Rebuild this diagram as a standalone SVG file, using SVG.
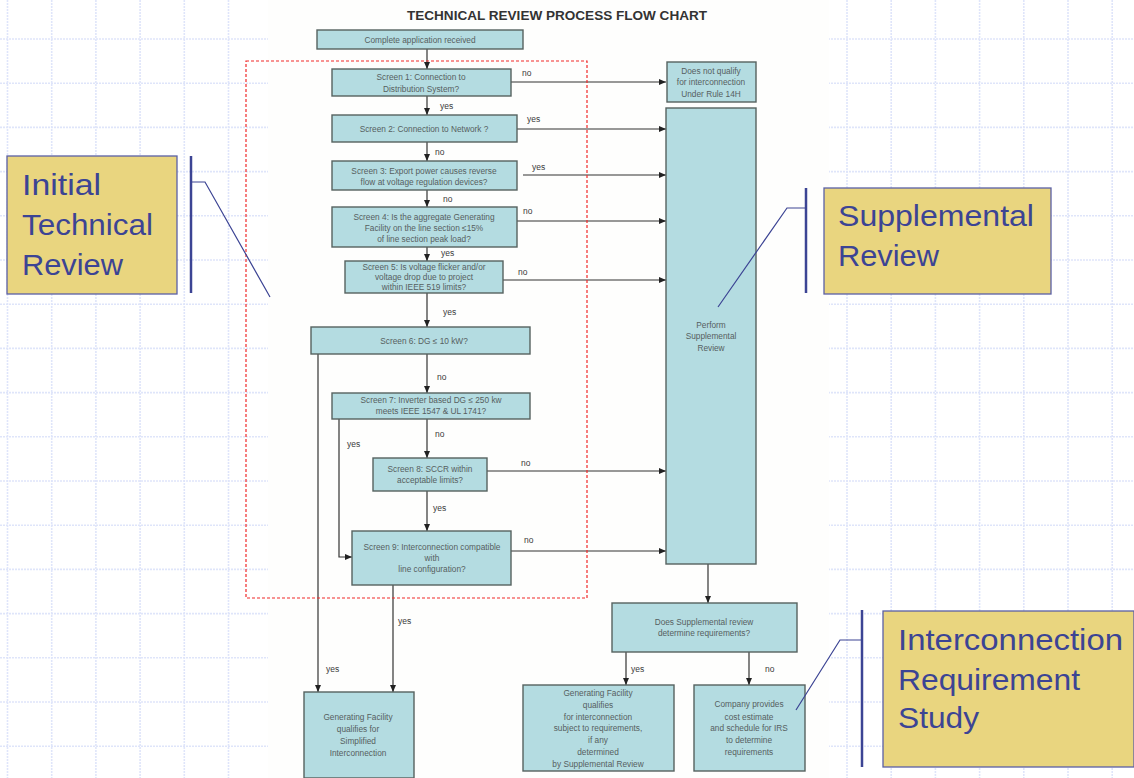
<svg xmlns="http://www.w3.org/2000/svg" width="1134" height="778" viewBox="0 0 1134 778">
<style>
.grid line{stroke:#dfe5fa;stroke-width:1.6;stroke-dasharray:2 1}
.box{fill:#b4dce1;stroke:#56625f;stroke-width:1.4}
.t{font-family:"Liberation Sans",Arial,sans-serif;font-size:8.3px;fill:#56605f;text-anchor:middle}
.lbl{font-family:"Liberation Sans",Arial,sans-serif;font-size:8.5px;fill:#3a3a3a}
.con line,.con polyline{stroke:#333;stroke-width:1.2;fill:none}
.call{fill:#e9d57f;stroke:#5b60a6;stroke-width:1.3}
.ct{font-family:"Liberation Sans",Tahoma,sans-serif;font-size:30px;fill:#3c4494}
.brk{stroke:#3c4494;stroke-width:2.5}
.lead{stroke:#3c4494;stroke-width:1.2;fill:none}
</style>
<defs>
<marker id="ah" markerUnits="userSpaceOnUse" markerWidth="8" markerHeight="8" refX="7" refY="4" orient="auto">
<path d="M0,1 L7,4 L0,7 Z" fill="#222"/>
</marker>
</defs>
<rect x="0" y="0" width="1134" height="778" fill="#fff"/>
<g class="grid">
<line x1="7.5" y1="0" x2="7.5" y2="778"/><line x1="51.7" y1="0" x2="51.7" y2="778"/><line x1="95.9" y1="0" x2="95.9" y2="778"/><line x1="140.1" y1="0" x2="140.1" y2="778"/><line x1="184.3" y1="0" x2="184.3" y2="778"/><line x1="228.5" y1="0" x2="228.5" y2="778"/>
<line x1="847" y1="0" x2="847" y2="778"/><line x1="891.2" y1="0" x2="891.2" y2="778"/><line x1="935.4" y1="0" x2="935.4" y2="778"/><line x1="979.6" y1="0" x2="979.6" y2="778"/><line x1="1023.8" y1="0" x2="1023.8" y2="778"/><line x1="1068" y1="0" x2="1068" y2="778"/><line x1="1112.2" y1="0" x2="1112.2" y2="778"/>
<line x1="0" y1="39" x2="1134" y2="39"/><line x1="0" y1="83.2" x2="1134" y2="83.2"/><line x1="0" y1="127.4" x2="1134" y2="127.4"/><line x1="0" y1="171.6" x2="1134" y2="171.6"/><line x1="0" y1="215.8" x2="1134" y2="215.8"/><line x1="0" y1="260" x2="1134" y2="260"/><line x1="0" y1="304.2" x2="1134" y2="304.2"/><line x1="0" y1="348.4" x2="1134" y2="348.4"/><line x1="0" y1="392.6" x2="1134" y2="392.6"/><line x1="0" y1="436.8" x2="1134" y2="436.8"/><line x1="0" y1="481" x2="1134" y2="481"/><line x1="0" y1="525.2" x2="1134" y2="525.2"/><line x1="0" y1="569.4" x2="1134" y2="569.4"/><line x1="0" y1="613.6" x2="1134" y2="613.6"/><line x1="0" y1="657.8" x2="1134" y2="657.8"/><line x1="0" y1="702" x2="1134" y2="702"/><line x1="0" y1="746.2" x2="1134" y2="746.2"/>
</g>
<rect x="268" y="0" width="561" height="778" fill="#fefefd"/>
<text x="557" y="20" font-family="'Liberation Sans',Arial,sans-serif" font-size="12.5" font-weight="bold" fill="#333" text-anchor="middle" textLength="300" lengthAdjust="spacingAndGlyphs">TECHNICAL REVIEW PROCESS FLOW CHART</text>

<g class="con">
<line x1="427" y1="49" x2="427" y2="69" marker-end="url(#ah)"/>
<line x1="427" y1="96" x2="427" y2="115" marker-end="url(#ah)"/>
<line x1="427" y1="142" x2="427" y2="161" marker-end="url(#ah)"/>
<line x1="427" y1="190" x2="427" y2="207" marker-end="url(#ah)"/>
<line x1="427" y1="247" x2="427" y2="261" marker-end="url(#ah)"/>
<line x1="427" y1="293" x2="427" y2="327" marker-end="url(#ah)"/>
<line x1="427" y1="354" x2="427" y2="393" marker-end="url(#ah)"/>
<line x1="427" y1="419" x2="427" y2="458" marker-end="url(#ah)"/>
<line x1="427" y1="491" x2="427" y2="531" marker-end="url(#ah)"/>
<line x1="393" y1="585" x2="393" y2="692" marker-end="url(#ah)"/>
<line x1="318" y1="354" x2="318" y2="692" marker-end="url(#ah)"/>
<polyline points="339,419 339,557 352,557" marker-end="url(#ah)"/>
<line x1="511" y1="82" x2="666" y2="82" marker-end="url(#ah)"/>
<line x1="517" y1="129" x2="666" y2="129" marker-end="url(#ah)"/>
<line x1="523" y1="175" x2="666" y2="175" marker-end="url(#ah)"/>
<line x1="517" y1="221" x2="666" y2="221" marker-end="url(#ah)"/>
<line x1="503" y1="280" x2="666" y2="280" marker-end="url(#ah)"/>
<line x1="487" y1="471" x2="666" y2="471" marker-end="url(#ah)"/>
<line x1="511" y1="551" x2="666" y2="551" marker-end="url(#ah)"/>
<line x1="708" y1="564" x2="708" y2="603" marker-end="url(#ah)"/>
<line x1="626" y1="652" x2="626" y2="685" marker-end="url(#ah)"/>
<line x1="749" y1="652" x2="749" y2="685" marker-end="url(#ah)"/>
</g>
<g id="labels">
<text class="lbl" x="522" y="76">no</text>
<text class="lbl" x="440" y="109">yes</text>
<text class="lbl" x="527" y="122">yes</text>
<text class="lbl" x="435" y="155">no</text>
<text class="lbl" x="532" y="170">yes</text>
<text class="lbl" x="443" y="202">no</text>
<text class="lbl" x="523" y="214">no</text>
<text class="lbl" x="441" y="256">yes</text>
<text class="lbl" x="518" y="275">no</text>
<text class="lbl" x="443" y="315">yes</text>
<text class="lbl" x="437" y="380">no</text>
<text class="lbl" x="435" y="437">no</text>
<text class="lbl" x="347" y="447">yes</text>
<text class="lbl" x="521" y="466">no</text>
<text class="lbl" x="433" y="511">yes</text>
<text class="lbl" x="524" y="543">no</text>
<text class="lbl" x="398" y="624">yes</text>
<text class="lbl" x="326" y="672">yes</text>
<text class="lbl" x="631" y="672">yes</text>
<text class="lbl" x="765" y="672">no</text>
</g>

<g id="start"><rect class="box" x="317" y="30" width="206" height="19"/><text class="t" x="420" y="42.5">Complete application received</text></g>
<g id="screen1"><rect class="box" x="332" y="69" width="179" height="27"/><text class="t" x="421" y="80">Screen 1:  Connection to</text><text class="t" x="421" y="92">Distribution System?</text></g>
<g id="noqualify"><rect class="box" x="667" y="62" width="89" height="40"/><text class="t" x="711" y="74">Does not qualify</text><text class="t" x="711" y="85">for interconnection</text><text class="t" x="711" y="97">Under Rule 14H</text></g>
<g id="screen2"><rect class="box" x="332" y="115" width="185" height="27"/><text class="t" x="424" y="132">Screen 2: Connection to Network ?</text></g>
<g id="screen3"><rect class="box" x="332" y="161" width="185" height="29"/><text class="t" x="424" y="174">Screen 3: Export power causes reverse</text><text class="t" x="424" y="185">flow at voltage regulation devices?</text></g>
<g id="screen4"><rect class="box" x="332" y="207" width="185" height="40"/><text class="t" x="424" y="220">Screen 4: Is the aggregate Generating</text><text class="t" x="424" y="231">Facility on the line section ≤15%</text><text class="t" x="424" y="242">of line section peak load?</text></g>
<g id="screen5"><rect class="box" x="345" y="261" width="158" height="32"/><text class="t" x="424" y="270">Screen 5: Is voltage flicker and/or</text><text class="t" x="424" y="280">voltage drop due to project</text><text class="t" x="424" y="290">within IEEE 519 limits?</text></g>
<g id="screen6"><rect class="box" x="311" y="327" width="219" height="27"/><text class="t" x="424" y="344">Screen 6: DG ≤ 10 kW?</text></g>
<g id="screen7"><rect class="box" x="332" y="393" width="198" height="26"/><text class="t" x="431" y="403">Screen 7: Inverter based DG ≤ 250 kw</text><text class="t" x="431" y="414">meets IEEE 1547 &amp; UL 1741?</text></g>
<g id="screen8"><rect class="box" x="373" y="458" width="114" height="33"/><text class="t" x="430" y="472">Screen 8: SCCR within</text><text class="t" x="430" y="483">acceptable limits?</text></g>
<g id="screen9"><rect class="box" x="352" y="531" width="159" height="54"/><text class="t" x="432" y="550">Screen 9: Interconnection compatible</text><text class="t" x="432" y="561">with</text><text class="t" x="432" y="572">line configuration?</text></g>
<g id="supplemental"><rect class="box" x="666" y="108" width="90" height="456"/><text class="t" x="711" y="328">Perform</text><text class="t" x="711" y="339">Supplemental</text><text class="t" x="711" y="351">Review</text></g>
<g id="determine"><rect class="box" x="612" y="603" width="185" height="49"/><text class="t" x="704" y="625">Does Supplemental review</text><text class="t" x="704" y="636">determine requirements?</text></g>
<g id="simplified"><rect class="box" x="304" y="692" width="110" height="86"/><text class="t" x="358" y="720">Generating Facility</text><text class="t" x="358" y="732">qualifies for</text><text class="t" x="358" y="744">Simplified</text><text class="t" x="358" y="756">Interconnection</text></g>
<g id="qualifies"><rect class="box" x="523" y="685" width="151" height="86"/><text class="t" x="598" y="696">Generating Facility</text><text class="t" x="598" y="708">qualifies</text><text class="t" x="598" y="720">for interconnection</text><text class="t" x="598" y="731">subject to requirements,</text><text class="t" x="598" y="743">if any</text><text class="t" x="598" y="755">determined</text><text class="t" x="598" y="767">by Supplemental Review</text></g>
<g id="company"><rect class="box" x="694" y="685" width="111" height="86"/><text class="t" x="749" y="707">Company provides</text><text class="t" x="749" y="720">cost estimate</text><text class="t" x="749" y="731">and schedule for IRS</text><text class="t" x="749" y="743">to determine</text><text class="t" x="749" y="755">requirements</text></g>

<rect id="initial-zone" x="246" y="61" width="341" height="537" fill="none" stroke="#f02828" stroke-width="1.2" stroke-dasharray="3 2"/>

<g id="callout-initial">
<rect class="call" x="7" y="156" width="170" height="138"/>
<text class="ct" x="22" y="195" textLength="79" lengthAdjust="spacingAndGlyphs">Initial</text>
<text class="ct" x="22" y="235" textLength="131" lengthAdjust="spacingAndGlyphs">Technical</text>
<text class="ct" x="22" y="275" textLength="101" lengthAdjust="spacingAndGlyphs">Review</text>
<line class="brk" x1="191" y1="156" x2="191" y2="293"/>
<polyline class="lead" points="191,182 205,182 270,297"/>
</g>
<g id="callout-supplemental">
<rect class="call" x="824" y="188" width="227" height="106"/>
<text class="ct" x="838" y="226" textLength="196" lengthAdjust="spacingAndGlyphs">Supplemental</text>
<text class="ct" x="838" y="266" textLength="101" lengthAdjust="spacingAndGlyphs">Review</text>
<line class="brk" x1="806" y1="188" x2="806" y2="293"/>
<polyline class="lead" points="806,208 787,208 718,307"/>
</g>
<g id="callout-irs">
<rect class="call" x="883" y="611" width="251" height="156"/>
<text class="ct" x="898" y="650" textLength="225" lengthAdjust="spacingAndGlyphs">Interconnection</text>
<text class="ct" x="898" y="690" textLength="182" lengthAdjust="spacingAndGlyphs">Requirement</text>
<text class="ct" x="898" y="728" textLength="81" lengthAdjust="spacingAndGlyphs">Study</text>
<line class="brk" x1="862" y1="610" x2="862" y2="767"/>
<polyline class="lead" points="862,640 840,640 796,710"/>
</g>
</svg>
